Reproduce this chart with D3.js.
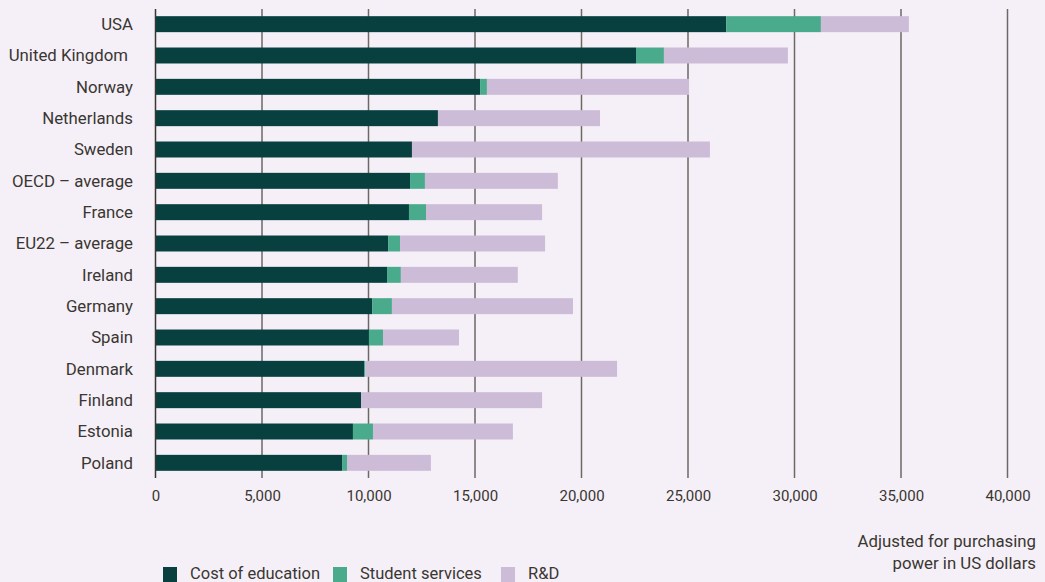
<!DOCTYPE html>
<html><head><meta charset="utf-8">
<script src="https://cdn.jsdelivr.net/npm/d3@7"></script>
<style>
html,body{margin:0;padding:0;background:#f5f0f7;}
svg{display:block;}
text{font-family:Roboto,"Noto Sans",sans-serif;fill:#3a3632;}
</style></head><body>
<svg id="c" width="1045" height="582"></svg>
<script>
const categories = ["USA","United Kingdom","Norway","Netherlands","Sweden","OECD – average","France","EU22 – average","Ireland","Germany","Spain","Denmark","Finland","Estonia","Poland"];
const costOfEducation = [26800,22560,15240,13260,12040,11950,11900,10920,10870,10170,10020,9790,9650,9270,8760];
const studentServices = [4440,1310,320,0,0,700,800,560,650,930,660,50,0,940,230];
const researchAndDev = [4130,5820,9490,7610,13990,6240,5450,6810,5490,8500,3570,11830,8500,6570,3940];
const tickValues = [0,5000,10000,15000,20000,25000,30000,35000,40000];
const seriesNames = ["Cost of education","Student services","R&D"];
const colors = ["#08403f","#4aaa8c","#cdbcd8"];

const svg = d3.select("#c");
const x = d3.scaleLinear().domain([0,40000]).range([155.5,1007.5]);
const y = d3.scaleBand().domain(categories).range([8.5,478.5]).paddingInner(0.49).paddingOuter(0.245);

const rows = categories.map((c,i)=>({cat:c, cost:costOfEducation[i], stud:studentServices[i], rd:researchAndDev[i]}));
const stack = d3.stack().keys(["cost","stud","rd"])(rows);

// gridlines
svg.append("g").selectAll("line").data(tickValues.slice(1)).join("line")
  .attr("x1",d=>x(d)).attr("x2",d=>x(d)).attr("y1",9).attr("y2",478)
  .attr("stroke","#6d6864").attr("stroke-width",1.5);

// bars
svg.append("g").selectAll("g").data(stack).join("g")
  .attr("fill",(d,i)=>colors[i])
  .selectAll("rect").data(d=>d).join("rect")
  .attr("x",d=>x(d[0])).attr("width",d=>Math.max(0,x(d[1])-x(d[0])))
  .attr("y",d=>y(d.data.cat)).attr("height",y.bandwidth());

// y axis line
svg.append("line").attr("x1",x(0)).attr("x2",x(0)).attr("y1",9).attr("y2",478)
  .attr("stroke","#3a3632").attr("stroke-width",1.5);

// category labels
svg.append("g").selectAll("text").data(categories).join("text")
  .attr("x",d=>d==="United Kingdom"?128:133).attr("y",d=>y(d)+y.bandwidth()/2).attr("dy","0.35em")
  .attr("text-anchor","end").attr("font-size",16.8).text(d=>d);

// x axis tick labels
const xa = d3.axisBottom(x).tickValues(tickValues).tickFormat(d3.format(",")).tickSize(0).tickPadding(0);
const gx = svg.append("g").attr("transform","translate(0,490)").call(xa);
gx.select(".domain").remove();
gx.selectAll("text").attr("font-size",15).attr("font-family","Roboto,sans-serif").attr("fill","#3a3632").attr("dy","0.71em");

// annotation
svg.append("text").attr("x",1036).attr("y",547).attr("text-anchor","end").attr("font-size",16.8).text("Adjusted for purchasing");
svg.append("text").attr("x",1036).attr("y",569).attr("text-anchor","end").attr("font-size",16.8).text("power in US dollars");

// legend
const legX = [163,333,501];
const lg = svg.append("g").selectAll("g").data(seriesNames).join("g")
  .attr("transform",(d,i)=>`translate(${legX[i]},567)`);
lg.append("rect").attr("width",14).attr("height",15).attr("fill",(d,i)=>colors[i]);
lg.append("text").attr("x",27).attr("y",6.5).attr("dy","0.35em").attr("font-size",16.5).text(d=>d);
</script>
</body></html>
